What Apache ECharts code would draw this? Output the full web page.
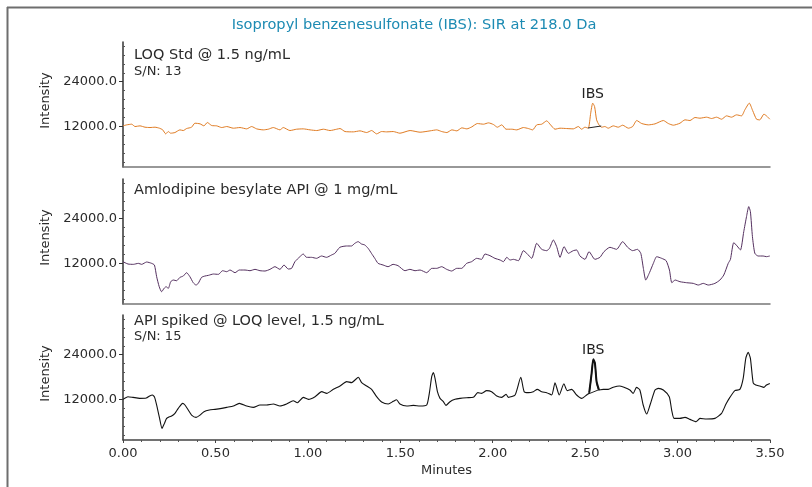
<!DOCTYPE html>
<html>
<head>
<meta charset="utf-8">
<title>IBS SIR chromatograms</title>
<script src="https://cdn.jsdelivr.net/npm/echarts@6.0.0/dist/echarts.min.js"></script>
<style>
  html, body { margin: 0; padding: 0; background: #fff; }
  #chart { width: 812px; height: 487px; }
</style>
</head>
<body>
<div id="chart"></div>
<script>
// values, minutes vs intensity
const loqTimes = [0.000, 0.020, 0.047, 0.065, 0.092, 0.119, 0.146, 0.173, 0.197, 0.215, 0.231, 0.245, 0.258, 0.281, 0.308, 0.326, 0.344, 0.371, 0.389, 0.417,
  0.438, 0.456, 0.480, 0.507, 0.534, 0.561, 0.597, 0.633, 0.669, 0.696, 0.723, 0.759, 0.786, 0.813, 0.849, 0.867, 0.903, 0.939, 0.975, 1.012,
  1.048, 1.084, 1.120, 1.156, 1.174, 1.201, 1.246, 1.282, 1.318, 1.345, 1.372, 1.399, 1.426, 1.462, 1.498, 1.553, 1.607, 1.661, 1.697, 1.724,
  1.752, 1.779, 1.806, 1.833, 1.860, 1.887, 1.917, 1.950, 1.977, 2.004, 2.025, 2.049, 2.072, 2.103, 2.130, 2.166, 2.193, 2.216, 2.238, 2.265,
  2.292, 2.313, 2.337, 2.364, 2.400, 2.436, 2.463, 2.481, 2.499, 2.517, 2.530, 2.541, 2.551, 2.562, 2.575, 2.589, 2.607, 2.625, 2.652, 2.679,
  2.703, 2.734, 2.757, 2.779, 2.806, 2.842, 2.878, 2.923, 2.950, 2.977, 3.013, 3.040, 3.067, 3.094, 3.121, 3.157, 3.184, 3.211, 3.238, 3.265,
  3.292, 3.319, 3.346, 3.364, 3.388, 3.406, 3.427, 3.445, 3.467, 3.481, 3.499];
const loqValues = [12090, 12360, 12540, 11910, 12090, 11730, 11640, 11730, 11460, 11010, 9930, 10560, 10110, 10290, 11010, 10830, 11370, 11730, 12810, 12630,
  12090, 12990, 12180, 12090, 11640, 11910, 11460, 11640, 11280, 11910, 11280, 11010, 11190, 11640, 11010, 11640, 10830, 11190, 11280, 11010,
  10830, 11190, 10830, 11190, 11370, 10560, 10470, 10740, 10290, 10830, 9930, 10560, 10470, 10560, 10110, 10830, 10380, 10740, 11010, 10560,
  10290, 11010, 10740, 11550, 11280, 11820, 12720, 12540, 12900, 12450, 11730, 12360, 11190, 11190, 11010, 11640, 11370, 11010, 12360, 12540,
  13440, 12360, 11190, 11460, 11370, 11280, 11910, 11190, 11730, 11460, 15510, 18210, 17310, 13710, 12360, 11730, 11910, 11460, 12090, 11730,
  12270, 11460, 11910, 13530, 12720, 12360, 12630, 13530, 12720, 12270, 12810, 13710, 13530, 14340, 14160, 14430, 14070, 14430, 13890, 14790,
  14430, 15060, 14790, 16410, 18210, 16230, 13890, 13710, 15240, 14790, 13890];

const apiTimes = [0.000, 0.027, 0.056, 0.083, 0.101, 0.128, 0.155, 0.170, 0.182, 0.196, 0.209, 0.222, 0.233, 0.245, 0.258, 0.272, 0.290, 0.308, 0.326, 0.344,
  0.362, 0.380, 0.395, 0.407, 0.425, 0.443, 0.462, 0.489, 0.516, 0.539, 0.561, 0.579, 0.606, 0.629, 0.660, 0.687, 0.714, 0.741, 0.768, 0.795,
  0.822, 0.849, 0.871, 0.894, 0.912, 0.930, 0.957, 0.975, 0.993, 1.020, 1.047, 1.074, 1.101, 1.128, 1.146, 1.173, 1.209, 1.236, 1.254, 1.272,
  1.290, 1.308, 1.326, 1.344, 1.362, 1.380, 1.407, 1.434, 1.461, 1.488, 1.525, 1.552, 1.580, 1.607, 1.643, 1.670, 1.697, 1.724, 1.751, 1.778,
  1.805, 1.832, 1.859, 1.886, 1.913, 1.940, 1.958, 1.985, 2.012, 2.040, 2.058, 2.076, 2.094, 2.112, 2.139, 2.166, 2.184, 2.211, 2.238, 2.265,
  2.292, 2.307, 2.328, 2.346, 2.364, 2.386, 2.409, 2.436, 2.454, 2.472, 2.499, 2.521, 2.553, 2.580, 2.602, 2.634, 2.670, 2.703, 2.730, 2.757,
  2.783, 2.801, 2.815, 2.828, 2.848, 2.869, 2.887, 2.914, 2.938, 2.956, 2.969, 2.987, 3.013, 3.049, 3.085, 3.112, 3.139, 3.166, 3.202, 3.229,
  3.250, 3.274, 3.286, 3.304, 3.322, 3.340, 3.358, 3.373, 3.385, 3.394, 3.405, 3.418, 3.436, 3.463, 3.481, 3.499];
const apiValues = [12400, 11780, 11690, 11960, 11690, 12320, 11960, 11510, 8360, 5660, 4310, 5210, 5660, 5210, 7010, 7460, 7280, 8180, 8540, 9440,
  8360, 6740, 6110, 6560, 8180, 8540, 8720, 9080, 8990, 9980, 9710, 10160, 9440, 10160, 10160, 9980, 10340, 9980, 9890, 10340,
  11060, 10340, 11510, 10430, 10610, 12400, 13760, 14480, 13580, 13580, 13310, 13940, 13580, 14210, 14660, 16280, 16640, 16640, 17360, 17810,
  17180, 16910, 16010, 14660, 13310, 11960, 11510, 11060, 11690, 11330, 9980, 10340, 9980, 10160, 9440, 10610, 10610, 11060, 10340, 9890,
  10610, 10610, 11960, 12410, 13310, 13040, 14480, 14030, 13310, 12860, 12410, 13580, 12860, 13040, 12680, 15380, 14660, 13310, 17360, 15740,
  15380, 16010, 18260, 16460, 13580, 16460, 14660, 15380, 15560, 13940, 13040, 15110, 13040, 13580, 15110, 16280, 15740, 17810, 16280, 15380,
  15740, 14660, 10610, 7460, 9440, 11960, 13760, 13310, 12680, 10160, 6740, 7460, 7010, 6740, 6560, 6110, 6560, 6110, 6560, 7460,
  8810, 11960, 13040, 17540, 16640, 15560, 20510, 24560, 27260, 25910, 19160, 14660, 13940, 13940, 13760, 13940];

const spikedTimes = [0.000, 0.027, 0.054, 0.090, 0.126, 0.144, 0.159, 0.171, 0.184, 0.198, 0.211, 0.224, 0.236, 0.251, 0.263, 0.281, 0.299, 0.323, 0.335, 0.353,
  0.371, 0.395, 0.417, 0.438, 0.467, 0.498, 0.534, 0.561, 0.597, 0.629, 0.669, 0.705, 0.741, 0.777, 0.813, 0.849, 0.885, 0.921, 0.943, 0.975,
  1.003, 1.039, 1.075, 1.102, 1.138, 1.174, 1.210, 1.237, 1.255, 1.273, 1.291, 1.318, 1.345, 1.372, 1.399, 1.435, 1.462, 1.480, 1.498, 1.535,
  1.571, 1.607, 1.643, 1.657, 1.670, 1.679, 1.688, 1.701, 1.715, 1.733, 1.747, 1.769, 1.796, 1.823, 1.859, 1.895, 1.919, 1.940, 1.967, 1.994,
  2.022, 2.049, 2.072, 2.085, 2.121, 2.152, 2.170, 2.193, 2.220, 2.241, 2.265, 2.292, 2.319, 2.337, 2.360, 2.385, 2.403, 2.427, 2.454, 2.481,
  2.508, 2.522, 2.535, 2.544, 2.553, 2.562, 2.575, 2.598, 2.625, 2.652, 2.685, 2.710, 2.742, 2.760, 2.778, 2.796, 2.814, 2.833, 2.851, 2.878,
  2.896, 2.923, 2.955, 2.968, 2.981, 3.013, 3.040, 3.067, 3.100, 3.121, 3.157, 3.202, 3.238, 3.262, 3.283, 3.310, 3.337, 3.355, 3.369, 3.382,
  3.394, 3.409, 3.423, 3.445, 3.467, 3.481, 3.499];
const spikedValues = [11960, 12680, 12500, 12230, 12320, 12860, 13130, 12500, 9980, 6830, 4130, 5480, 6830, 7280, 7460, 8180, 9530, 10880, 10430, 9080,
  7730, 7100, 7730, 8630, 9080, 9260, 9530, 9800, 10160, 10880, 10160, 9800, 10430, 10430, 10700, 10160, 10700, 11600, 11060, 12500,
  11960, 12680, 14030, 13580, 14660, 15560, 16730, 16460, 17180, 17900, 16460, 15560, 14660, 12680, 11240, 10700, 11420, 11870, 10700, 10160,
  10340, 10160, 10430, 13580, 18080, 19160, 17630, 14030, 12230, 11330, 10340, 11330, 11960, 12230, 12410, 12500, 13760, 13580, 14300, 14030,
  12860, 12500, 13310, 12500, 13130, 17900, 14030, 13760, 14030, 14660, 14030, 13760, 13130, 16430, 13130, 16160, 14300, 14660, 13130, 12230,
  13130, 13760, 18980, 22760, 21680, 16700, 14480, 14660, 14660, 15200, 15560, 15200, 14480, 13580, 15200, 14480, 10430, 7990, 10430, 14480,
  14930, 14480, 12680, 9080, 6830, 6830, 7100, 6560, 5930, 6830, 6650, 6830, 8180, 10700, 12500, 14300, 14660, 17630, 23030, 24650,
  23030, 16430, 15830, 15560, 15200, 15830, 16250];

// integration baselines and apex of the IBS peak
const loqIbsBaseline = [[2.516, 11520], [2.587, 12050]];
const spikedIbsBaseline = [[2.517, 13400], [2.580, 14670]];
const loqIbsApex = [2.541, 18210];
const spikedIbsApex = [2.544, 22760];

const panelLabels = ['LOQ Std @ 1.5 ng/mL', 'Amlodipine besylate API @ 1 mg/mL', 'API spiked @ LOQ level, 1.5 ng/mL'];
const panelSN = ['S/N: 13', '', 'S/N: 15'];
const yMajorTicks = [12000, 24000];
const yMinorTicks = [2400, 4800, 7200, 9600, 14400, 16800, 19200, 21600, 26400, 28800, 31200, 33600];

const FONT = 'DejaVu Sans';
const TEXT = '#2b2b2b';

function zip(xs, ys) {
  return xs.map((x, i) => [x, ys[i]]);
}

const chart = echarts.init(document.getElementById('chart'), null, { renderer: 'canvas' });

const gridTops = [42, 179, 315];
const grids = gridTops.map(t => ({ left: 123, width: 647, top: t, height: 125 }));

const xAxes = gridTops.map((t, i) => {
  const last = i === 2;
  return {
    gridIndex: i,
    type: 'value',
    min: 0,
    max: 3.5,
    interval: 0.5,
    name: last ? 'Minutes' : '',
    nameLocation: 'middle',
    nameGap: 24,
    nameTextStyle: { fontFamily: FONT, fontSize: 13, color: TEXT },
    axisLine: { onZero: false, lineStyle: { color: last ? '#444' : '#777', width: 1.5 } },
    axisTick: { show: last, length: 3, lineStyle: { color: '#444' } },
    minorTick: { show: last, splitNumber: 5, length: 2, lineStyle: { color: '#555' } },
    axisLabel: { show: last, margin: 7, fontFamily: FONT, fontSize: 13, color: TEXT, formatter: v => v.toFixed(2) },
    splitLine: { show: false }
  };
});

const yAxes = [];
gridTops.forEach((t, i) => {
  yAxes.push({
    gridIndex: i,
    type: 'value',
    min: 1000,
    max: 34700,
    name: 'Intensity',
    nameLocation: 'middle',
    nameGap: 59,
    nameTextStyle: { fontFamily: FONT, fontSize: 13, color: TEXT, padding: [0, 0, 0, 8] },
    axisLine: { show: true, onZero: false, lineStyle: { color: '#333', width: 1.5 } },
    axisTick: { show: true, length: 4, customValues: yMajorTicks, lineStyle: { color: '#333' } },
    axisLabel: { margin: 6, fontFamily: FONT, fontSize: 13, color: TEXT, customValues: yMajorTicks, formatter: v => v.toFixed(1) },
    splitLine: { show: false }
  });
});
gridTops.forEach((t, i) => {
  yAxes.push({
    gridIndex: i,
    type: 'value',
    min: 1000,
    max: 34700,
    axisLine: { show: false },
    axisTick: { show: true, length: 2, customValues: yMinorTicks, lineStyle: { color: '#555' } },
    axisLabel: { show: false },
    splitLine: { show: false }
  });
});

function ibsMarks(baseline, apex) {
  return {
    markLine: {
      silent: true,
      symbol: ['none', 'none'],
      label: { show: false },
      lineStyle: { color: '#222', width: 1, type: 'solid' },
      data: [[{ coord: baseline[0] }, { coord: baseline[1] }]]
    },
    markPoint: {
      silent: true,
      symbol: 'circle',
      symbolSize: 0,
      label: { show: true, position: 'top', distance: 2, formatter: 'IBS', fontFamily: FONT, fontSize: 14, color: '#222' },
      data: [{ coord: apex }]
    }
  };
}

const spikedData = zip(spikedTimes, spikedValues);

const series = [
  Object.assign({
    type: 'line', xAxisIndex: 0, yAxisIndex: 0, showSymbol: false, smooth: 0.2,
    lineStyle: { color: '#e07b22', width: 1 },
    data: zip(loqTimes, loqValues)
  }, ibsMarks(loqIbsBaseline, loqIbsApex)),
  {
    type: 'line', xAxisIndex: 1, yAxisIndex: 1, showSymbol: false, smooth: 0.2,
    lineStyle: { color: '#54305f', width: 1 },
    data: zip(apiTimes, apiValues)
  },
  Object.assign({
    type: 'line', xAxisIndex: 2, yAxisIndex: 2, showSymbol: false, smooth: 0.2,
    lineStyle: { color: '#111', width: 1.1 },
    data: spikedData
  }, ibsMarks(spikedIbsBaseline, spikedIbsApex)),
  {
    // the integrated IBS peak is drawn heavier
    type: 'line', xAxisIndex: 2, yAxisIndex: 2, showSymbol: false, smooth: 0.2,
    lineStyle: { color: '#111', width: 2 },
    data: spikedData.filter(d => d[0] >= spikedIbsBaseline[0][0] && d[0] <= spikedIbsBaseline[1][0])
  }
];

const labelY = [[55.5, 71.5], [190.5, 0], [321.5, 336.5]];
const graphics = [
  { type: 'line', silent: true, shape: { x1: 7, y1: 7.5, x2: 812, y2: 7.5 }, style: { stroke: '#6e6e6e', lineWidth: 2 } },
  { type: 'line', silent: true, shape: { x1: 7.5, y1: 7, x2: 7.5, y2: 487 }, style: { stroke: '#6e6e6e', lineWidth: 2 } },
  {
    type: 'text', x: 414, y: 25, silent: true,
    style: { text: 'Isopropyl benzenesulfonate (IBS): SIR at 218.0 Da', fontFamily: FONT, fontSize: 14.6, fill: '#1d8bb3', align: 'center', verticalAlign: 'middle' }
  }
];
panelLabels.forEach((txt, i) => {
  graphics.push({
    type: 'text', x: 134, y: labelY[i][0], silent: true,
    style: { text: txt, fontFamily: FONT, fontSize: 14.5, fill: TEXT, verticalAlign: 'middle' }
  });
  if (panelSN[i]) {
    graphics.push({
      type: 'text', x: 134, y: labelY[i][1], silent: true,
      style: { text: panelSN[i], fontFamily: FONT, fontSize: 13, fill: TEXT, verticalAlign: 'middle' }
    });
  }
});

chart.setOption({
  animation: false,
  backgroundColor: '#fff',
  grid: grids,
  xAxis: xAxes,
  yAxis: yAxes,
  series: series,
  graphic: graphics
});

window.addEventListener('resize', () => chart.resize());
</script>
</body>
</html>
